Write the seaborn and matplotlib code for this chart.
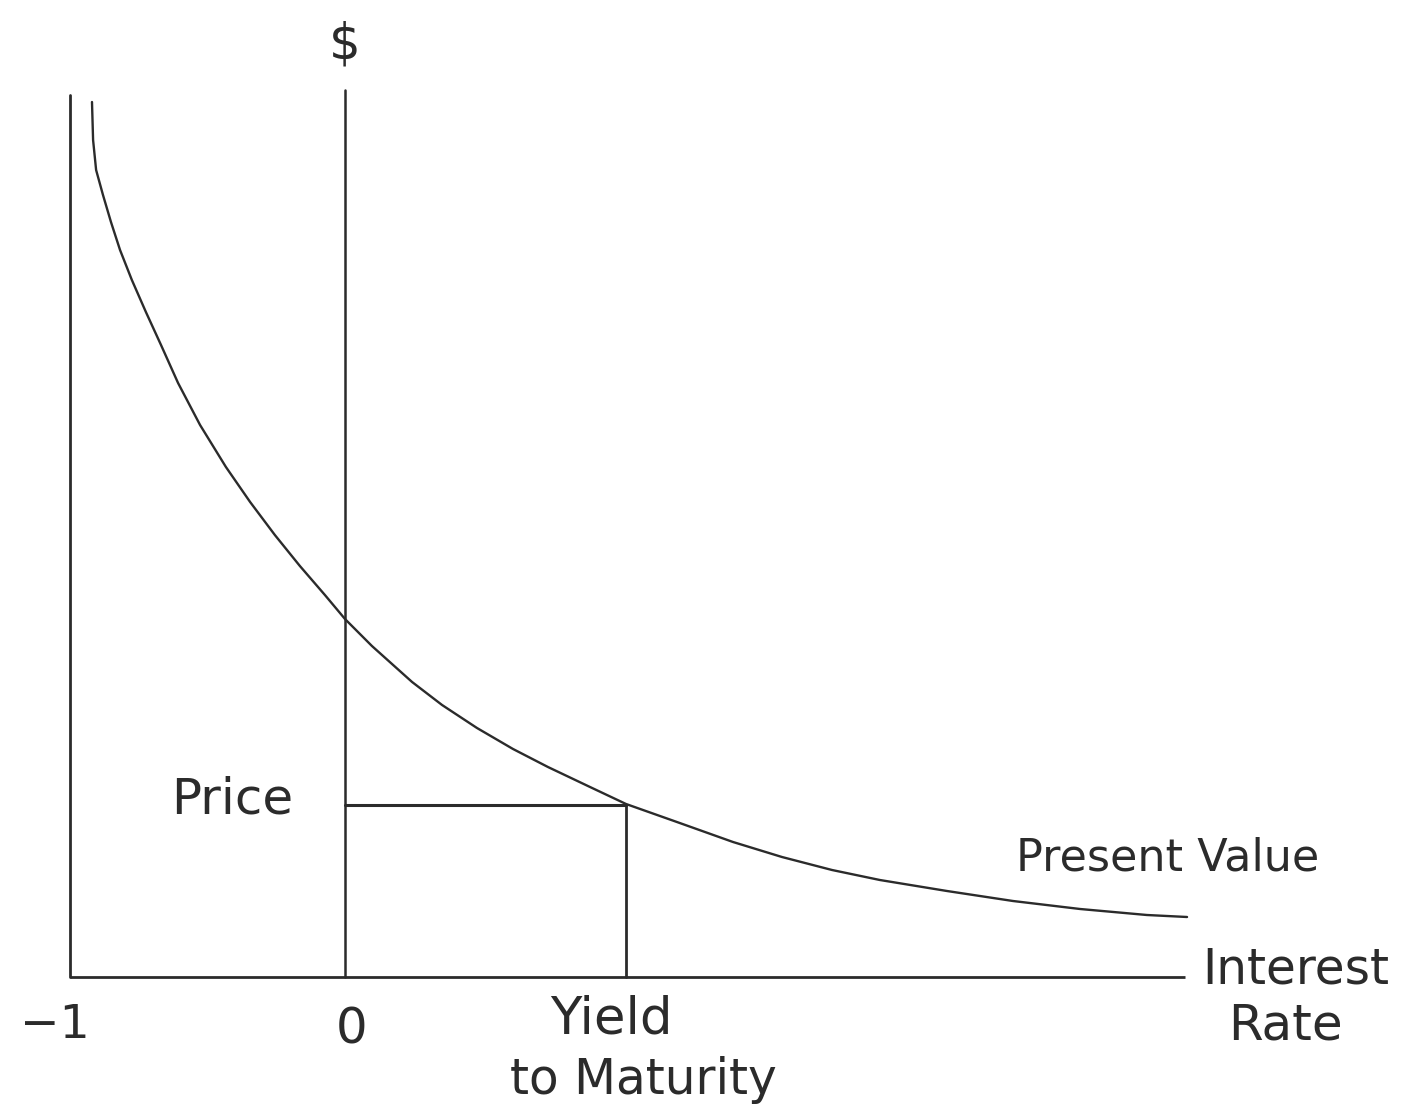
import matplotlib
matplotlib.use("Agg")
import matplotlib.pyplot as plt
import pandas as pd
import seaborn as sns

# present value curve (interest rate, $)
rate = [-0.920, -0.916, -0.905, -0.880, -0.851, -0.818, -0.775, -0.724, -0.669,
        -0.607, -0.527, -0.433, -0.345, -0.255, -0.164, -0.073, 0.0, 0.098,
        0.244, 0.353, 0.480, 0.611, 0.738, 0.891, 1.022, 1.207, 1.411, 1.589,
        1.771, 1.945, 2.189, 2.429, 2.673, 2.916, 3.062]
present_value = [8.75, 8.37, 8.07, 7.82, 7.55, 7.27, 6.97, 6.65, 6.32,
                 5.94, 5.52, 5.10, 4.75, 4.42, 4.11, 3.82, 3.58, 3.31,
                 2.95, 2.72, 2.49, 2.28, 2.10, 1.90, 1.73, 1.55, 1.35, 1.20,
                 1.07, 0.97, 0.86, 0.76, 0.68, 0.62, 0.60]

# yield to maturity and the price it gives
ytm = 1.022
price = 1.72

# axis extents
rate_min, rate_max = -1.0, 3.053
left_top, dollar_top = 8.82, 8.87

df = pd.DataFrame({"rate": rate, "pv": present_value})

sns.set_style("white")
plt.rcParams["font.family"] = ["DejaVu Sans"]

fig = plt.figure(figsize=(14.07, 11.09), dpi=100)
ax = fig.add_axes([0, 0, 1, 1])

ink = "#2b2b2b"

# axes of the sketch
ax.plot([rate_min, rate_max], [0, 0], color=ink, lw=2.0, solid_capstyle="butt")
ax.plot([rate_min, rate_min], [0, left_top], color=ink, lw=2.0)
ax.plot([0, 0], [0, dollar_top], color=ink, lw=1.8)

# price / yield guide lines
ax.plot([0, ytm], [price, price], color=ink, lw=2.2)
ax.plot([ytm, ytm], [0, price], color=ink, lw=2.0)

sns.lineplot(data=df, x="rate", y="pv", ax=ax, color=ink, lw=1.7,
             sort=False, estimator=None)

txt = dict(ha="center", va="center", color=ink)
ax.text(0, 9.32, "$", fontsize=36, **txt)
ax.text(-1.055, -0.48, "\u22121", fontsize=34, **txt)
ax.text(0.025, -0.53, "0", fontsize=36, **txt)
ax.text(0.967, -0.43, "Yield", fontsize=37, **txt)
ax.text(1.084, -1.03, "to Maturity", fontsize=35, **txt)
ax.text(3.458, 0.07, "Interest", fontsize=35, **txt)
ax.text(3.418, -0.48, "Rate", fontsize=36, **txt)
ax.text(-0.411, 1.77, "Price", fontsize=36, **txt)
ax.text(2.99, 1.19, "Present Value", fontsize=32, **txt)

ax.set_xlim(-1.2545, 3.8618)
ax.set_ylim(-1.32, 9.77)
ax.set_axis_off()

fig.savefig("out.png", dpi=100, facecolor="white")
